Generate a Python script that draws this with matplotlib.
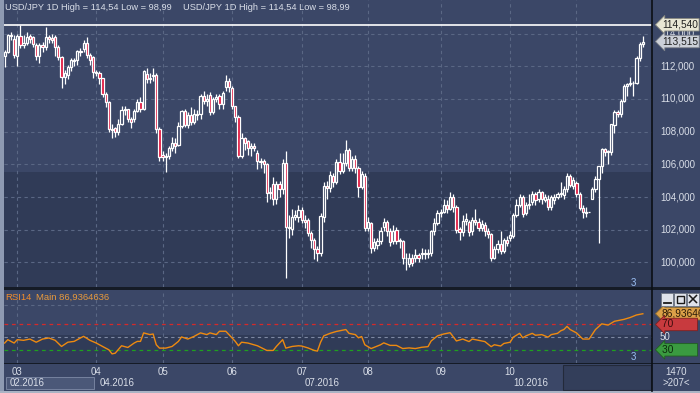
import numpy as np
import matplotlib
matplotlib.use('Agg')
import matplotlib.pyplot as plt
import matplotlib.transforms as mtransforms
from matplotlib.patches import Rectangle

# USD/JPY daily candles, late Feb .. Nov 2016
opens = [
    # Feb / Mar
    112.6, 112.9, 113.94, 113.65, 112.63, 113.85, 113.3, 113.45, 113.85, 113.79,
    113.32, 112.63, 113.3, 113.18, 113.79, 113.75, 113.79, 113.18, 112.57, 111.35,
    111.45, 111.96, 112.37, 112.37, 112.92, 113.08, 113.45, 112.67, 112.57,
    # Apr
    111.65, 111.6, 111.29, 110.33, 109.82, 108.19, 108.2, 108.0, 108.5, 109.3,
    109.37, 108.8, 108.76, 109.25, 109.82, 109.37, 111.55, 111.25, 111.4, 111.49,
    108.14,
    # May
    106.6, 106.45, 106.5, 106.98, 107.3, 107.2, 108.35, 109.28, 108.4, 109.0,
    108.6, 109.1, 109.1, 110.2, 109.9, 110.24, 109.2, 109.98, 110.2, 109.7,
    110.75, 111.1,
    # Jun
    110.65, 109.57, 108.88, 106.5, 107.59, 107.4, 106.98, 107.1, 106.72, 106.23,
    106.23, 106.0, 104.23, 104.8, 103.9, 104.8, 104.5, 106.1, 102.2, 102.03,
    102.8, 102.8,
    # Jul
    103.2, 102.6, 102.6, 101.8, 101.4, 100.8, 100.6, 102.8, 104.7, 104.54,
    105.3, 104.95, 106.17, 105.6, 106.07, 106.9, 105.8, 106.3, 105.8, 104.64,
    105.3,
    # Aug
    102.1, 102.4, 100.9, 101.07, 101.3, 102.2, 102.46, 101.93, 101.3, 102.0,
    101.3, 101.3, 100.3, 99.9, 100.3, 100.3, 100.45, 100.5, 100.5, 100.5,
    100.56, 101.9, 102.4,
    # Sep
    103.0, 103.1, 103.5, 103.3, 104.0, 103.4, 102.05, 101.85, 102.54, 102.46,
    101.9, 102.6, 102.46, 102.1, 102.3, 101.95, 101.72, 100.3, 100.8, 101.1,
    100.7, 101.4,
    # Oct
    101.5, 101.65, 102.9, 103.5, 104.0, 103.0, 103.5, 103.7, 104.2, 103.9,
    104.3, 103.85, 103.9, 103.4, 103.85, 104.0, 104.2, 104.1, 104.5, 105.3,
    104.7,
    # Nov
    104.85, 104.2, 103.36, 103.05, 103.1, 103.9, 104.5, 105.1, 105.9, 106.95,
    106.74, 106.74, 108.4, 109.2, 109.1, 109.9, 110.8, 110.9, 111.0, 111.0,
    112.5, 113.35,
]
closes = [
    112.9, 113.94, 113.85, 112.67, 113.85, 113.28, 113.4, 113.79, 113.65, 113.38,
    112.63, 113.28, 113.2, 113.79, 113.7, 113.6, 113.18, 112.57, 111.35, 111.6,
    111.96, 112.37, 112.3, 112.92, 112.85, 113.45, 112.67, 112.37, 111.65,
    111.6, 111.29, 110.33, 109.82, 108.19, 108.1, 108.0, 108.5, 109.3, 109.37,
    108.8, 108.6, 109.25, 109.82, 109.37, 111.69, 111.25, 111.3, 111.49, 108.14,
    106.45,
    106.45, 106.5, 106.98, 107.3, 107.15, 108.35, 109.28, 108.4, 109.0, 108.6,
    109.1, 109.05, 110.2, 109.9, 110.0, 109.2, 109.98, 110.1, 109.7, 110.35,
    111.1, 110.75,
    109.57, 108.88, 106.5, 107.59, 107.33, 106.98, 107.1, 107.0, 106.23, 106.15,
    106.0, 104.23, 104.3, 103.9, 104.8, 104.5, 106.1, 102.2, 102.1, 102.8,
    102.9, 103.2,
    102.6, 102.5, 101.8, 101.4, 100.8, 100.6, 102.85, 104.7, 104.54, 105.35,
    104.95, 106.17, 105.6, 106.1, 106.9, 105.8, 106.3, 105.8, 104.64, 105.4,
    102.1,
    102.46, 100.9, 101.24, 101.3, 101.9, 102.46, 101.93, 101.28, 101.9, 101.3,
    101.35, 100.3, 100.25, 100.3, 99.95, 100.45, 100.25, 100.6, 100.6, 100.6,
    101.9, 102.4, 103.0,
    103.1, 103.5, 103.3, 104.0, 103.4, 102.0, 101.85, 102.54, 102.65, 101.85,
    102.6, 102.5, 102.1, 102.35, 101.95, 101.75, 100.3, 100.8, 101.1, 100.7,
    101.4, 101.2,
    101.7, 102.9, 103.5, 104.0, 102.95, 103.5, 103.6, 104.2, 103.8, 104.3,
    103.9, 104.0, 103.4, 104.0, 104.0, 104.2, 104.25, 104.5, 105.3, 104.75,
    105.05,
    104.2, 103.36, 103.07, 103.1, 103.1, 104.5, 105.1, 105.9, 106.95, 106.74,
    106.8, 108.45, 109.2, 109.1, 109.9, 110.8, 110.9, 111.0, 111.0, 112.5,
    113.35, 113.515,
]
highs = [
    113.0, 114.0, 114.1, 113.9, 114.0, 114.5, 113.9, 114.1, 113.95, 113.85,
    113.4, 113.4, 113.5, 114.4, 113.9, 113.95, 113.9, 113.3, 112.6, 111.8,
    112.1, 112.5, 112.5, 113.0, 113.1, 113.6, 113.8, 112.8, 112.6,
    111.8, 111.7, 111.3, 110.4, 109.9, 108.5, 108.3, 108.8, 109.6, 109.6,
    109.4, 108.9, 109.4, 110.0, 110.1, 111.8, 111.9, 111.6, 111.9, 111.6,
    108.3,
    106.8, 106.7, 107.1, 107.7, 107.6, 108.6, 109.3, 109.4, 109.2, 109.5,
    109.4, 109.3, 110.3, 110.5, 110.3, 110.4, 110.1, 110.3, 110.3, 110.5,
    111.47, 111.3,
    110.8, 109.6, 109.0, 107.9, 107.7, 107.5, 107.3, 107.3, 106.9, 106.4,
    106.3, 106.1, 104.6, 105.2, 105.0, 105.0, 106.3, 106.8, 102.9, 103.3,
    103.2, 103.5,
    103.4, 102.9, 102.7, 101.9, 101.5, 101.0, 103.0, 104.9, 105.0, 105.6,
    105.5, 106.3, 106.7, 106.7, 107.5, 107.0, 106.5, 106.6, 105.9, 105.6,
    105.5,
    102.8, 102.5, 101.5, 101.5, 102.2, 102.7, 102.6, 102.1, 102.3, 102.2,
    101.5, 101.4, 100.6, 100.6, 100.5, 100.8, 100.6, 100.9, 100.8, 100.8,
    102.0, 102.7, 103.2,
    103.3, 103.9, 103.8, 104.3, 104.2, 103.5, 102.2, 102.9, 103.0, 102.6,
    102.8, 103.3, 102.7, 102.6, 102.5, 102.1, 101.8, 101.0, 101.4, 101.9,
    101.5, 101.6,
    101.9, 103.0, 103.9, 104.2, 104.1, 103.7, 104.2, 104.4, 104.3, 104.5,
    104.4, 104.2, 104.1, 104.1, 104.2, 104.3, 104.95, 104.7, 105.5, 105.4,
    105.2,
    105.0, 104.3, 103.5, 103.4, 103.1, 104.6, 105.3, 105.9, 107.0, 107.0,
    106.9, 108.5, 109.3, 109.3, 110.0, 110.9, 111.0, 111.35, 111.1, 112.6,
    113.5, 113.86,
]
lows = [
    111.96, 112.8, 113.6, 112.5, 112.0, 113.1, 113.1, 113.3, 113.4, 113.2,
    112.4, 112.2, 112.9, 113.0, 113.4, 113.4, 112.6, 112.4, 110.7, 110.9,
    111.2, 111.7, 112.0, 112.1, 112.6, 112.9, 112.5, 112.1, 111.3,
    111.4, 110.9, 110.1, 109.5, 108.0, 107.6, 107.7, 107.8, 108.4, 109.0,
    108.6, 108.2, 108.6, 109.2, 109.2, 109.3, 111.0, 111.0, 111.1, 107.9,
    106.2,
    106.2, 105.55, 106.3, 106.8, 106.7, 107.1, 108.2, 108.3, 108.2, 108.4,
    108.5, 108.7, 108.8, 109.7, 109.6, 109.0, 109.1, 109.8, 109.4, 109.4,
    110.5, 110.4,
    109.4, 108.6, 106.4, 106.4, 106.9, 106.6, 106.5, 106.8, 105.7, 105.8,
    105.5, 103.7, 103.9, 103.5, 103.6, 104.0, 104.2, 99.03, 101.5, 101.7,
    102.6, 102.5,
    102.4, 102.1, 101.6, 100.9, 100.2, 100.1, 100.4, 102.5, 103.9, 104.3,
    104.6, 104.8, 105.4, 105.5, 105.9, 105.6, 105.6, 105.5, 104.0, 104.5,
    101.9,
    101.9, 100.6, 100.7, 100.8, 101.1, 101.9, 101.6, 101.0, 101.1, 101.1,
    100.9, 99.9, 99.55, 99.7, 99.8, 100.0, 100.0, 100.2, 100.2, 100.3,
    100.4, 101.7, 102.3,
    102.8, 103.0, 103.0, 103.2, 103.1, 101.8, 101.4, 101.6, 102.3, 101.6,
    101.7, 102.3, 101.9, 101.9, 101.6, 101.5, 100.1, 100.2, 100.6, 100.5,
    100.6, 101.0,
    101.3, 101.5, 102.8, 103.4, 102.8, 102.9, 103.3, 103.5, 103.5, 103.7,
    103.6, 103.7, 103.2, 103.2, 103.6, 103.9, 104.0, 103.9, 104.3, 104.6,
    104.5,
    104.0, 103.2, 102.7, 102.8, 103.1, 103.9, 104.3, 101.2, 105.5, 106.5,
    106.0, 106.6, 107.9, 108.9, 108.9, 109.8, 110.2, 110.8, 110.2, 110.9,
    112.3, 113.2,
]

range_high = 114.54
range_low = 98.99
last_close = 113.515
price_ticks = [100, 102, 104, 106, 108, 110, 112, 114]

month_idx = [4, 29, 50, 72, 94, 115, 138, 160, 181]
month_labels = ['03', '04', '05', '06', '07', '08', '09', '10', '11']
period_idx = [29, 94, 160]
period_labels = ['04.2016', '07.2016', '10.2016']

# RSI(14) line as drawn in the lower panel
rsi_idx = [0, 1, 3, 4, 6, 8, 10, 12, 14, 16, 18, 20, 22, 24, 25, 27, 29, 31, 33, 34,
           35, 37, 39, 41, 42, 43, 44, 46, 47, 48, 49, 51, 53, 55, 56, 58, 60, 62, 64, 65,
           67, 68, 70, 71, 73, 74, 75, 77, 80, 83, 85, 86, 88, 89, 91, 93, 94, 96, 98, 99,
           100, 101, 103, 105, 108, 109, 111, 112, 113, 114, 116, 119, 120, 122, 124, 126,
           128, 130, 132, 134, 135, 137, 139, 141, 143, 145, 147, 148, 150, 152, 154, 155,
           157, 158, 160, 161, 163, 164, 165, 167, 168, 170, 172, 173, 175, 176, 177, 178,
           179, 181, 183, 185, 187, 189, 191, 193, 196, 198, 200, 202]
rsi_vals = [40.7, 46, 40.7, 46, 45, 47, 42, 47, 48.7, 45, 35.3, 42, 43.3, 48.7, 51.3, 45,
            40.7, 35.3, 30, 23.6, 24.7, 36.4, 33.7, 40.7, 43.3, 43.3, 56.7, 54, 55, 38, 32.7,
            32.7, 35.3, 43.3, 50.3, 47, 51.3, 56.7, 54, 56.7, 54, 59.3, 59.3, 54, 43.3, 36.4,
            42, 40.7, 36.4, 29, 29, 35.3, 46, 32.7, 35.3, 36.4, 36, 33, 29, 28, 42, 52, 56,
            59, 62, 56, 54, 49, 51, 38, 32, 38, 41, 37, 37, 32, 33, 32, 34, 35, 44, 52, 55,
            57, 44, 47, 43, 47, 45, 43, 35, 38, 36, 40, 42, 50, 56, 49, 52, 56, 53, 54, 50,
            54, 56, 60, 62, 67, 62, 56.7, 47, 47, 62, 71, 69, 75, 78, 81, 85, 86.94]
rsi_last = '86,9364636'

# ---- look ----
W, H = 700, 393
BG_UP = '#3b4767'
BG_LO = '#303b57'
GRID = '#5a6784'
TXT = '#d9dee8'
RED = '#e0143c'
plt.rcParams['font.family'] = ['Liberation Sans', 'DejaVu Sans']

fig = plt.figure(figsize=(W / 100, H / 100), dpi=100)
fig.patch.set_facecolor(BG_UP)


def fy(y):
    return 1 - y / H


def fx(x):
    return x / W


def px_axes(x0, y0, x1, y1):
    return fig.add_axes([x0 / W, 1 - y1 / H, (x1 - x0) / W, (y1 - y0) / H])


XLIM = (-0.2, 204.9)

# ---- price panel ----
ax = px_axes(4, 0, 652, 287)
ax.set_facecolor(BG_LO)
ax.set_xlim(*XLIM)
ax.set_ylim(98.50, 116.055)
split = 105.53
ax.axhspan(split, 120, color=BG_UP, zorder=0, lw=0)
for p in price_ticks:
    ax.axhline(p, color=GRID, lw=0.8, ls=(0, (3, 3)), zorder=1)
for m in month_idx:
    ax.axvline(m, color=GRID, lw=0.8, ls=(0, (3, 3)), zorder=1)
ax.axhline(range_high, color='white', lw=1.2, zorder=2)

o = np.array(opens)
c = np.array(closes)
h = np.array(highs)
l = np.array(lows)
idx = np.arange(len(c))
top = np.maximum(o, c)
bot = np.minimum(o, c)
ax.vlines(idx, top, h, color='white', lw=0.9, zorder=3)
ax.vlines(idx, l, bot, color='white', lw=0.9, zorder=3)
faces = []
for i in idx:
    if c[i] < o[i]:
        faces.append(RED)
    else:
        faces.append(BG_UP if (top[i] + bot[i]) / 2 > split else BG_LO)
ax.bar(idx, top - bot, bottom=bot, width=0.7, color=faces, edgecolor='white',
       linewidth=0.9, zorder=4)

for s in ax.spines.values():
    s.set_visible(False)
ax.set_xticks([])
ax.set_yticks([])

tr_price = mtransforms.blended_transform_factory(fig.transFigure, ax.transData)
for p in price_ticks:
    ax.text(fx(660), p, f'{p},000', transform=tr_price, color=TXT, fontsize=7,
            va='center', ha='left', clip_on=False)
ax.text(fx(662), range_high, '114,540', transform=tr_price, color='#202020', fontsize=7.3,
        va='center', ha='left', clip_on=False, zorder=6,
        bbox=dict(boxstyle='larrow,pad=0.12', fc='#e8e6d4', ec='#8a8a80', lw=0.6))
ax.text(fx(662), last_close, '113,515', transform=tr_price, color='#202020', fontsize=7.3,
        va='center', ha='left', clip_on=False, zorder=6,
        bbox=dict(boxstyle='larrow,pad=0.12', fc='#ccd0d8', ec='#80848c', lw=0.6))

# ---- RSI panel ----
ar = px_axes(4, 290, 652, 363)
ar.set_facecolor(BG_LO)
ar.set_xlim(*XLIM)
ar.set_ylim(9.2, 124.4)
ar.axhspan(54, 130, color=BG_UP, zorder=0, lw=0)
for m in month_idx:
    ar.axvline(m, color=GRID, lw=0.8, ls=(0, (3, 3)), zorder=1)
ar.axhline(100, color=GRID, lw=0.8, ls=(0, (3, 3)), zorder=1)
ar.axhline(50, color='#7d88a2', lw=0.8, ls=(0, (3, 3)), zorder=1)
ar.axhline(70, color='#d42a2a', lw=0.9, ls=(0, (3, 3)), zorder=1)
ar.axhline(30, color='#1fa01f', lw=0.9, ls=(0, (3, 3)), zorder=1)
ar.plot(rsi_idx, rsi_vals, color='#ee8a10', lw=1.0, zorder=3)
for s in ar.spines.values():
    s.set_visible(False)
ar.set_xticks([])
ar.set_yticks([])

tr_rsi = mtransforms.blended_transform_factory(fig.transFigure, ar.transData)
ar.text(fx(660), 100, '100', transform=tr_rsi, color=TXT, fontsize=7, va='center',
        clip_on=False)
ar.text(fx(660), 50, '50', transform=tr_rsi, color=TXT, fontsize=7, va='center',
        clip_on=False)
ar.text(fx(662), 86.94, '86,93646', transform=tr_rsi, color='#2a1a08', fontsize=7.3,
        va='center', clip_on=False, zorder=6,
        bbox=dict(boxstyle='larrow,pad=0.12', fc='#dba048', ec='#8a6a30', lw=0.6))
ar.text(fx(662), 70, '70        ', transform=tr_rsi, color='#3a0c0c', fontsize=7.3,
        va='center', clip_on=False, zorder=6,
        bbox=dict(boxstyle='larrow,pad=0.12', fc='#c83a3e', ec='#802020', lw=0.6))
ar.text(fx(662), 30, '30        ', transform=tr_rsi, color='#0c2a0c', fontsize=7.3,
        va='center', clip_on=False, zorder=6,
        bbox=dict(boxstyle='larrow,pad=0.12', fc='#3a9a40', ec='#206020', lw=0.6))

# ---- time axis labels ----
tr_time = mtransforms.blended_transform_factory(ar.transData, fig.transFigure)
for m, lab in zip(month_idx, month_labels):
    col = '#7c88a4' if lab == '11' else TXT
    ar.text(m, fy(372), lab, transform=tr_time, color=col, fontsize=7, ha='center',
            va='center', clip_on=False, zorder=8)
for m, lab in zip(period_idx, period_labels):
    ar.text(m + 1, fy(383), lab, transform=tr_time, color=TXT, fontsize=7, ha='left',
            va='center', clip_on=False, zorder=8)

# ---- overlay for window chrome ----
ov = fig.add_axes([0, 0, 1, 1], zorder=10)
ov.set_xlim(0, W)
ov.set_ylim(H, 0)
ov.axis('off')
ov.patch.set_alpha(0)

title = 'USD/JPY 1D High = 114,54 Low = 98,99'
ov.text(5, 8, title, color=TXT, fontsize=6.7, va='center', ha='left')
ov.text(183, 8, title, color=TXT, fontsize=6.7, va='center', ha='left')
ov.text(5, 297, 'RSI14', color='#f08c2c', fontsize=6.8, va='center', ha='left')
ov.text(36, 297, 'Main ' + rsi_last, color='#e89a3c', fontsize=6.8, va='center', ha='left')
ov.text(633, 283, '3', color='#9cc0f4', fontsize=7, va='center', ha='center')
ov.text(633, 357, '3', color='#9cc0f4', fontsize=7, va='center', ha='center')

# separators
ov.add_patch(Rectangle((0, 287), W, 3, fc='#151b26', ec='none'))
ov.add_patch(Rectangle((0, 362.5), W, 1.6, fc='#151b26', ec='none'))
ov.plot([652, 652], [0, 391], color='#0b0f15', lw=1.2)

# period boxes on the time axis
ov.add_patch(Rectangle((6, 376.5), 88, 12.5, fc='#4b5878', ec='#7e8aa6', lw=0.6, zorder=1))
ov.text(10, 383, '02.2016', color=TXT, fontsize=7, va='center', ha='left', zorder=2)
ov.add_patch(Rectangle((563, 364.5), 88, 25.5, fc='#333e5a', ec='#232a3a', lw=0.8, zorder=0))

# bottom right counter
ov.text(676, 372, '1470', color=TXT, fontsize=7, ha='center', va='center')
ov.text(676, 383, '>207<', color=TXT, fontsize=7, ha='center', va='center')

# window buttons
for bx in (661, 674, 687):
    ov.add_patch(Rectangle((bx, 292.5), 12, 13, fc='#dfe3ea', ec='#6e7684', lw=0.6, zorder=5))
ov.plot([663.5, 670.5], [303, 303], color='#1a1a1a', lw=1.3, zorder=6)
ov.add_patch(Rectangle((676.5, 295.5), 7, 7, fc='none', ec='#1a1a1a', lw=1.0, zorder=6))
ov.plot([689.5, 696.5], [295.5, 302.5], color='#1a1a1a', lw=1.1, zorder=6)
ov.plot([689.5, 696.5], [302.5, 295.5], color='#1a1a1a', lw=1.1, zorder=6)

# outer frame
ov.add_patch(Rectangle((0, 0), 3.5, H, fc='#8e9ab2', ec='none'))
ov.add_patch(Rectangle((0, 390.5), W, 2.5, fc='#aab3c4', ec='none'))

fig.savefig('out.png', dpi=100, facecolor=fig.get_facecolor())
